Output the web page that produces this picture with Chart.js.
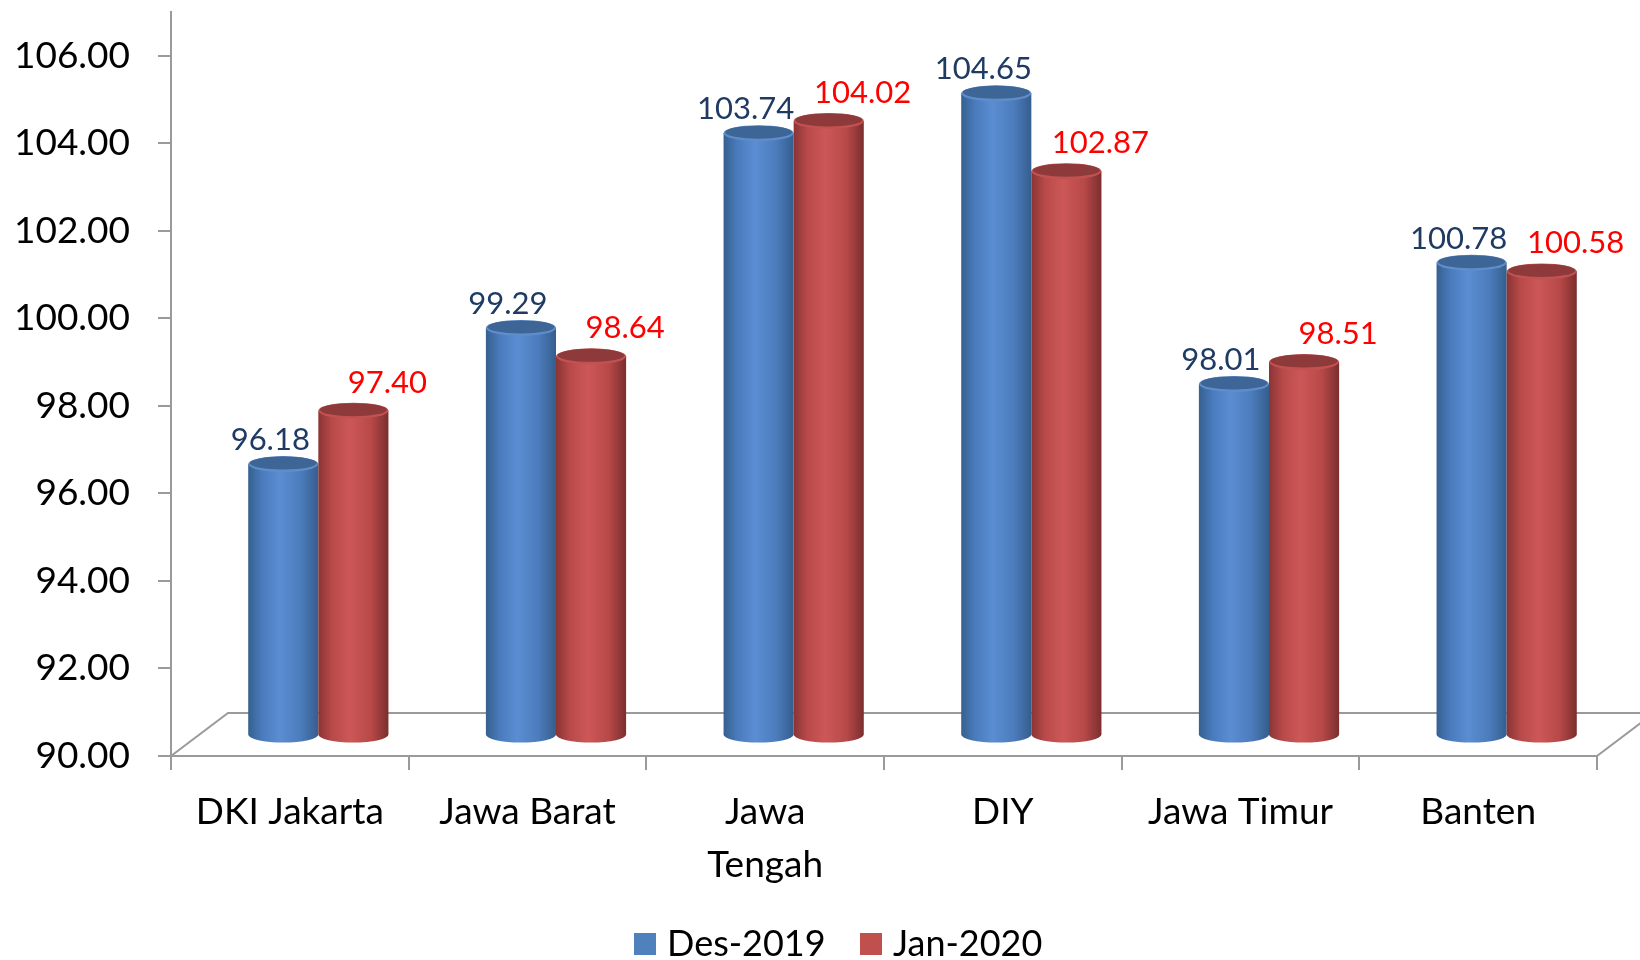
<!DOCTYPE html>
<html>
<head>
<meta charset="utf-8">
<script src="https://cdn.jsdelivr.net/npm/chart.js@4.4.0/dist/chart.umd.min.js"></script>
<style>
    html, body { margin: 0; padding: 0; background: #fff; }
    #wrap { width: 1640px; height: 960px; }
</style>
</head>
<body>
<div id="wrap"><canvas id="chart" width="1640" height="960"></canvas></div>
<script>
// Data
const categories = ['DKI Jakarta', 'Jawa Barat', ['Jawa', 'Tengah'], 'DIY', 'Jawa Timur', 'Banten'];
const seriesNames = ['Des-2019', 'Jan-2020'];
const des2019 = [96.18, 99.29, 103.74, 104.65, 98.01, 100.78];
const jan2020 = [97.40, 98.64, 104.02, 102.87, 98.51, 100.58];
const yTicks = [90, 92, 94, 96, 98, 100, 102, 104, 106];

const FONT = 'Lato, "Open Sans", sans-serif';
const AXIS_GREY = '#9a9a9a';

// 3D look: depth of the floor, cylinders sit at half depth
const DEPTH_X = 57, DEPTH_Y = 43;

const styles = [
    { legend: '#4f81bd', body: ['#35608f', '#4a7bbd', '#5a8dd2', '#4c7cbc', '#355e8e'], top: '#3d6696', rim: '#5f8ccb', label: '#1f3b63', dx: -13, dy: -24 },
    { legend: '#c0504d', body: ['#8a3434', '#b94a4a', '#cd5757', '#b84949', '#7c2e2e'], top: '#8f3a3a', rim: '#c25252', label: '#ff0000', dx: 34, dy: -28 }
];

function drawCylinder(ctx, cx, top, bottom, w, ry, st) {
    const rx = w / 2;
    const g = ctx.createLinearGradient(cx - rx, 0, cx + rx, 0);
    const stops = [0, 0.2, 0.45, 0.75, 1];
    st.body.forEach((c, i) => g.addColorStop(stops[i], c));

    ctx.beginPath();
    ctx.moveTo(cx - rx, top);
    ctx.lineTo(cx - rx, bottom);
    ctx.ellipse(cx, bottom, rx, ry, 0, Math.PI, 0, true);
    ctx.lineTo(cx + rx, top);
    ctx.closePath();
    ctx.fillStyle = g;
    ctx.fill();

    // top cap
    ctx.beginPath();
    ctx.ellipse(cx, top, rx, ry, 0, 0, Math.PI * 2);
    ctx.fillStyle = st.rim;
    ctx.fill();
    ctx.beginPath();
    ctx.ellipse(cx, top - 1, rx - 1.5, ry - 1.5, 0, 0, Math.PI * 2);
    ctx.fillStyle = st.top;
    ctx.fill();
}

const cylinderPlugin = {
    id: 'cylinders',
    beforeDatasetsDraw(chart) {
        const { ctx, chartArea, scales } = chart;
        const y = scales.y;
        const L = chartArea.left, R = chartArea.right, B = chartArea.bottom;

        // floor
        ctx.save();
        ctx.strokeStyle = AXIS_GREY;
        ctx.lineWidth = 2;
        ctx.beginPath();
        ctx.moveTo(L, B);
        ctx.lineTo(L + DEPTH_X, B - DEPTH_Y);
        ctx.lineTo(R + DEPTH_X, B - DEPTH_Y);
        ctx.moveTo(R, B);
        ctx.lineTo(R + DEPTH_X, B - DEPTH_Y);
        ctx.stroke();

        const ox = DEPTH_X / 2, oy = DEPTH_Y / 2;
        const base = y.getPixelForValue(90) - oy;
        const labels = [];

        chart.data.datasets.forEach((ds, di) => {
            const meta = chart.getDatasetMeta(di);
            const st = styles[di];
            meta.data.forEach((bar, i) => {
                const cx = bar.x + ox;
                const top = y.getPixelForValue(ds.data[i]) - oy;
                drawCylinder(ctx, cx, top, base, bar.width, 8, st);
                labels.push({ text: ds.data[i].toFixed(2), x: cx + st.dx, y: top + st.dy, color: st.label });
            });
        });

        ctx.font = '31px ' + FONT;
        ctx.textAlign = 'center';
        ctx.textBaseline = 'middle';
        labels.forEach(l => {
            ctx.fillStyle = l.color;
            ctx.fillText(l.text, l.x, l.y);
        });
        ctx.restore();
        return false;
    },
    afterDraw(chart) {
        // legend under the chart
        const ctx = chart.ctx;
        const items = [{ x: 634, text: seriesNames[0] }, { x: 860, text: seriesNames[1] }];
        ctx.save();
        ctx.font = '36px ' + FONT;
        ctx.textBaseline = 'alphabetic';
        ctx.textAlign = 'left';
        items.forEach((it, i) => {
            ctx.fillStyle = styles[i].legend;
            ctx.fillRect(it.x, 933, 22, 22);
            ctx.fillStyle = '#000';
            ctx.fillText(it.text, it.x + 33, 956);
        });
        ctx.restore();
    }
};

new Chart(document.getElementById('chart'), {
    type: 'bar',
    data: {
        labels: categories,
        datasets: [
            { label: seriesNames[0], data: des2019, backgroundColor: styles[0].legend },
            { label: seriesNames[1], data: jan2020, backgroundColor: styles[1].legend }
        ]
    },
    options: {
        responsive: false,
        animation: false,
        layout: { padding: { top: 12, right: 43, left: 0, bottom: 0 } },
        datasets: { bar: { categoryPercentage: 0.59, barPercentage: 1 } },
        scales: {
            x: {
                grid: { offset: true, drawOnChartArea: false, drawTicks: true, tickLength: 14, color: AXIS_GREY, lineWidth: 2 },
                border: { color: AXIS_GREY, width: 2 },
                ticks: { color: '#000', font: { family: FONT, size: 37, lineHeight: 1.42 }, padding: 16, maxRotation: 0, autoSkip: false },
                afterFit(scale) { scale.height = 204; }
            },
            y: {
                min: 90,
                max: 107,
                grid: { drawOnChartArea: false, drawTicks: true, tickLength: 13, color: AXIS_GREY, lineWidth: 2 },
                border: { color: AXIS_GREY, width: 2 },
                afterBuildTicks(scale) { scale.ticks = yTicks.map(v => ({ value: v })); },
                ticks: { color: '#000', font: { family: FONT, size: 37 }, padding: 28, callback: v => Number(v).toFixed(2) },
                afterFit(scale) { scale.width = 171; scale.paddingTop = 0; scale.paddingBottom = 0; }
            }
        },
        plugins: {
            legend: { display: false },
            tooltip: { enabled: false }
        }
    },
    plugins: [cylinderPlugin]
});
</script>
</body>
</html>
